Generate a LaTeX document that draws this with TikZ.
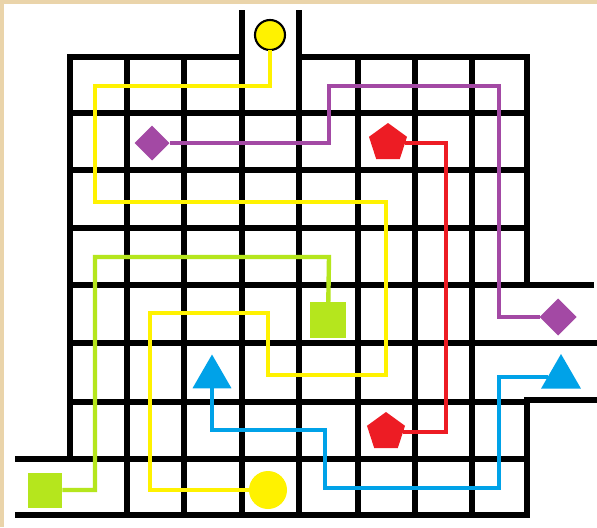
\documentclass[tikz,border=0pt]{standalone}
\usetikzlibrary{shapes.geometric}
\definecolor{parchment}{RGB}{234,212,170}
\definecolor{mzyellow}{RGB}{255,242,0}
\definecolor{mzpurple}{RGB}{163,73,164}
\definecolor{mzred}{RGB}{237,28,36}
\definecolor{mzgreen}{RGB}{181,230,29}
\definecolor{mzblue}{RGB}{0,162,232}
\tikzset{
  wall/.style={line width=3.2pt, line cap=rect},
  route/.style={line width=2.5pt},
  token/.style={inner sep=0pt, outer sep=0pt}
}
\begin{document}
\begin{tikzpicture}[x=0.02cm, y=-0.02cm]
	\useasboundingbox (0,0) rectangle (597,527);
	\fill[parchment] (0,0) rectangle (597,527);
	\fill[white] (4,4) rectangle (597,527);
	% walls of the maze
	\foreach \x in {127,184,242,299,358,415,472} \draw[wall] (\x,57) -- (\x,515);
	\foreach \y in {113,170,228,402} \draw[wall] (70,\y) -- (527,\y);
	\draw[wall] (70,459) -- (70,57) -- (242,57) -- (242,13);
	\draw[wall] (299,13) -- (299,57) -- (527,57) -- (527,285) -- (591,285);
	\draw[wall] (70,343) -- (594,343);
	\draw[wall] (597,400) -- (527,400) -- (527,515) -- (18,515);
	\draw[wall] (18,459) -- (527,459);
	\draw[wall] (70,285) -- (527,285);
	% end points
	\node[token, circle, fill=mzyellow, draw=black, line width=1.2pt, minimum size=0.6cm] (ytop) at (270,35) {};
	\node[token, circle, fill=mzyellow, minimum size=0.76cm] (ybot) at (268,490) {};
	\node[token, diamond, fill=mzpurple, minimum size=0.7cm] (pleft) at (152,143) {};
	\node[token, diamond, fill=mzpurple, minimum size=0.74cm] (pright) at (558,317) {};
	\node[token, regular polygon, regular polygon sides=5, fill=mzred, minimum size=0.8cm] (rtop) at (388,143) {};
	\node[token, regular polygon, regular polygon sides=5, fill=mzred, minimum size=0.8cm] (rbot) at (386,432) {};
	\node[token, rectangle, fill=mzgreen, minimum size=0.7cm] (gleft) at (45,490) {};
	\node[token, rectangle, fill=mzgreen, minimum size=0.72cm] (gright) at (328,320) {};
	\node[token, regular polygon, regular polygon sides=3, fill=mzblue, minimum size=0.9cm] (bleft) at (212,377) {};
	\node[token, regular polygon, regular polygon sides=3, fill=mzblue, minimum size=0.92cm] (bright) at (561,377) {};
	% routes
	\draw[route, mzyellow] (ytop) -- (270,86) -- (95,86) -- (95,202) -- (386,202) -- (386,375) -- (268,375) -- (268,313) -- (150,313) -- (150,490) -- (ybot);
	\draw[route, mzpurple] (pleft) -- (329,143) -- (329,86) -- (499,86) -- (499,317) -- (pright);
	\draw[route, mzred] (rtop) -- (446,143) -- (446,432) -- (rbot);
	\draw[route, mzgreen] (gleft) -- (95,490) -- (95,257) -- (329,257) -- (gright);
	\draw[route, mzblue] (bleft) -- (212,430) -- (325,430) -- (325,488) -- (499,488) -- (499,377) -- (bright);
\end{tikzpicture}
\end{document}
